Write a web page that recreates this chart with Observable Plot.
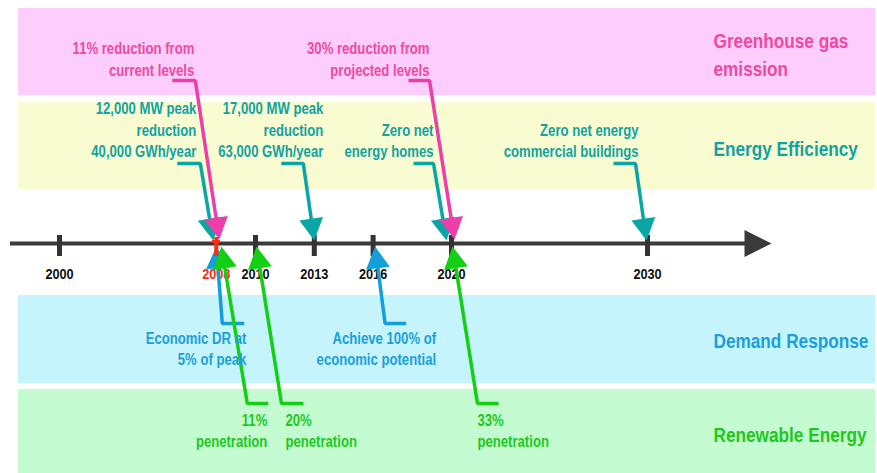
<!DOCTYPE html>
<html><head><meta charset="utf-8">
<script src="https://cdn.jsdelivr.net/npm/d3@7"></script>
<script src="https://cdn.jsdelivr.net/npm/@observablehq/plot@0.6"></script>
<style>html,body{margin:0;padding:0;background:#fff;overflow:hidden}#chart svg{display:block}</style>
</head><body><div id="chart"></div>
<script>
// ---------------- data ----------------
const tickYears = [2000, 2008, 2010, 2013, 2016, 2020, 2030];
const tickLabels = ["2000", "2008", "2010", "2013", "2016", "2020", "2030"];
const currentYear = 2008;
const categories = ["Greenhouse gas emission", "Energy Efficiency", "Demand Response", "Renewable Energy"];
const categoryLabelLines = [["Greenhouse gas", "emission"], ["Energy Efficiency"], ["Demand Response"], ["Renewable Energy"]];
const milestoneCategory = [
  "Greenhouse gas emission", "Greenhouse gas emission",
  "Energy Efficiency", "Energy Efficiency", "Energy Efficiency", "Energy Efficiency",
  "Demand Response", "Demand Response",
  "Renewable Energy", "Renewable Energy", "Renewable Energy"
];
const milestoneYear = [2008, 2020, 2008, 2013, 2020, 2030, 2008, 2016, 2008, 2010, 2020];
const milestoneText = [
  ["11% reduction from", "current levels"],
  ["30% reduction from", "projected levels"],
  ["12,000 MW peak", "reduction", "40,000 GWh/year"],
  ["17,000 MW peak", "reduction", "63,000 GWh/year"],
  ["Zero net", "energy homes"],
  ["Zero net energy", "commercial buildings"],
  ["Economic DR at", "5% of peak"],
  ["Achieve 100% of", "economic potential"],
  ["11%", "penetration"],
  ["20%", "penetration"],
  ["33%", "penetration"]
];

// ---------------- layout / style ----------------
const W = 877, H = 473;
const AXIS_Y = 243;
const PX0 = 59, PX1 = 647;                 // pixel positions of 2000 and 2030
const pxPerYear = (PX1 - PX0) / 30;
const yr = px => 2000 + (px - PX0) / pxPerYear; // pixel -> year (for layout offsets)
const px = y => PX0 + (y - 2000) * pxPerYear;

const lanes = {
  "Greenhouse gas emission": {y1: 8, y2: 95, band: "#fdcdfd", text: "#ef4a9e", line: "#ee3ea9", tipY: 239, elbowY: 80, firstY: 48, step: 22, labelY: [41, 69]},
  "Energy Efficiency": {y1: 102, y2: 189, band: "#f9fbd0", text: "#12a2a2", line: "#0aa6a6", tipY: 240, elbowY: 163, lastY: 151.5, step: 21.5, labelY: [149]},
  "Demand Response": {y1: 295, y2: 383, band: "#c5f4fd", text: "#1c9fda", line: "#159fda", tipY: 246, elbowY: 323, firstY: 338, step: 21, labelY: [341]},
  "Renewable Energy": {y1: 389, y2: 480, band: "#c4fbd0", text: "#1ec81e", line: "#14d014", tipY: 246, elbowY: 403, firstY: 420, step: 21, labelY: [435]}
};
// pixel offsets from each milestone's tick: arrow tip, elbow, shoulder bar length, label anchor
const milestoneLayout = [
  {tip: 3, elbow: -21, bar: -23, label: -22, anchor: "end"},
  {tip: 3, elbow: -22, bar: -21, label: -22, anchor: "end"},
  {tip: -3, elbow: -16, bar: -23, label: -20, anchor: "end"},
  {tip: 0, elbow: -11, bar: -22, label: 9, anchor: "end"},
  {tip: -5, elbow: -18, bar: -20, label: -18, anchor: "end"},
  {tip: -1, elbow: -12, bar: -22, label: -9, anchor: "end"},
  {tip: 0, elbow: 6, bar: 22, label: 30, anchor: "end"},
  {tip: 2, elbow: 12, bar: 21, label: 63, anchor: "end"},
  {tip: 5, elbow: 31, bar: 21, label: 51, anchor: "end"},
  {tip: 1, elbow: 26, bar: 22, label: 30, anchor: "start"},
  {tip: 1, elbow: 26, bar: 21, label: 26, anchor: "start"}
];
const TRI_W = 24, TRI_H = 22;

// ---------------- font detection ----------------
function fontAvailable(name) {
  const c = document.createElement("canvas").getContext("2d");
  const t = "11% reduction from WMmwil";
  c.font = "bold 40px monospace"; const a = c.measureText(t).width;
  c.font = `bold 40px "${name}", monospace`; const b = c.measureText(t).width;
  return Math.abs(a - b) > 0.5;
}
const NARROW = fontAvailable("Liberation Sans Narrow");
const FONT = NARROW ? '"Liberation Sans Narrow", "Liberation Sans", Arial, sans-serif' : '"Liberation Sans", Arial, sans-serif';

// triangle symbol with tip at origin, rotated to point along (ux, uy)
function triangle(w, h, ux, uy) {
  const a = Math.atan2(-ux, uy), c = Math.cos(a), s = Math.sin(a);
  const pts = [[0, 0], [-w / 2, -h], [w / 2, -h]].map(([x, y]) => [x * c - y * s, x * s + y * c]);
  return {draw(ctx) { ctx.moveTo(...pts[0]); ctx.lineTo(...pts[1]); ctx.lineTo(...pts[2]); ctx.closePath(); }};
}

// ---------------- derived tables ----------------
const milestones = milestoneYear.map((year, i) => {
  const lane = lanes[milestoneCategory[i]], L = milestoneLayout[i], X = px(year);
  const tip = [X + L.tip, lane.tipY], elbow = [X + L.elbow, lane.elbowY];
  const dx = tip[0] - elbow[0], dy = tip[1] - elbow[1], len = Math.hypot(dx, dy);
  const ux = dx / len, uy = dy / len;
  const base = [tip[0] - ux * TRI_H * 0.8, tip[1] - uy * TRI_H * 0.8];
  return {i, year, lane, L, tip, elbow, barEnd: [elbow[0] + L.bar, lane.elbowY], base, ux, uy};
});
const leaderPts = milestones.flatMap(m => [
  {id: m.i, x: yr(m.barEnd[0]), y: m.barEnd[1], c: m.lane.line},
  {id: m.i, x: yr(m.elbow[0]), y: m.elbow[1], c: m.lane.line},
  {id: m.i, x: yr(m.base[0]), y: m.base[1], c: m.lane.line}
]);
const labelLines = milestones.flatMap(m => {
  const lines = milestoneText[m.i], lane = m.lane;
  const first = lane.lastY != null ? lane.lastY - (lines.length - 1) * lane.step : lane.firstY;
  return lines.map((t, k) => ({x: yr(px(m.year) + m.L.label), y: first + k * lane.step, text: t, fill: lane.text, anchor: m.L.anchor}));
});
const catLabels = categories.flatMap((c, i) => categoryLabelLines[i].map((t, k) => ({x: yr(713), y: lanes[c].labelY[k], text: t, fill: lanes[c].text})));

// draw order: teal, then pink, then blue, then green
const order = ["Energy Efficiency", "Greenhouse gas emission", "Demand Response", "Renewable Energy"];
const triMarks = order.flatMap(cat => milestones.filter(m => milestoneCategory[m.i] === cat).map(m =>
  Plot.dot([m], {x: d => yr(d.tip[0]), y: d => d.tip[1], r: 6, fill: m.lane.line, symbol: triangle(TRI_W, TRI_H, m.ux, m.uy)})
));

const chart = Plot.plot({
  width: W, height: H, margin: 0,
  x: {domain: [2000, 2030], range: [PX0, PX1], axis: null},
  y: {domain: [0, H], range: [0, H], axis: null},
  color: {type: "identity"},
  style: {fontFamily: FONT, background: "#fff", overflow: "visible"},
  marks: [
    Plot.rect(categories, {x1: yr(18), x2: yr(875), y1: c => lanes[c].y1, y2: c => lanes[c].y2, fill: c => lanes[c].band}),
    // timeline axis
    Plot.ruleY([AXIS_Y], {x1: yr(10), x2: yr(752), stroke: "#3a3a3a", strokeWidth: 4}),
    Plot.dot([AXIS_Y], {x: yr(771), y: d => d, r: 6, fill: "#3a3a3a", symbol: triangle(27, 27, 1, 0)}),
    Plot.ruleX(tickYears.filter(d => d !== currentYear), {x: d => d, y1: 235, y2: 256, stroke: "#333", strokeWidth: 5}),
    Plot.text(tickYears, {x: d => d, y: 274, text: (d, i) => tickLabels[i], fill: d => d === currentYear ? "#ff2a10" : "#111", fontSize: 15.5, fontWeight: "bold"}),
    // leaders
    Plot.line(leaderPts, {x: "x", y: "y", z: "id", stroke: "c", strokeWidth: 3.5, strokeLinejoin: "miter", strokeLinecap: "butt"}),
    ...triMarks,
    // current-year marker
    Plot.ruleX([currentYear], {x: d => d, y1: 237, y2: 256, stroke: "#ff2a10", strokeWidth: 4}),
    Plot.ruleY([AXIS_Y - 2], {x1: currentYear - 4 / pxPerYear, x2: currentYear + 4 / pxPerYear, y: d => d, stroke: "#ff2a10", strokeWidth: 3}),
    // labels
    Plot.text(labelLines.filter(d => d.anchor === "end"), {x: "x", y: "y", text: "text", fill: "fill", textAnchor: "end", fontSize: 16, fontWeight: "bold"}),
    Plot.text(labelLines.filter(d => d.anchor === "start"), {x: "x", y: "y", text: "text", fill: "fill", textAnchor: "start", fontSize: 16, fontWeight: "bold"}),
    Plot.text(catLabels, {x: "x", y: "y", text: "text", fill: "fill", textAnchor: "start", fontSize: 21, fontWeight: "bold"})
  ]
});

if (!NARROW) {
  chart.querySelectorAll("text").forEach(t => {
    const tr = t.getAttribute("transform");
    if (tr) t.setAttribute("transform", tr + " scale(0.82,1)");
    else {
      const x = +t.getAttribute("x") || 0, y = +t.getAttribute("y") || 0;
      t.removeAttribute("x"); t.removeAttribute("y");
      t.setAttribute("transform", `translate(${x},${y}) scale(0.82,1)`);
    }
  });
}
document.getElementById("chart").appendChild(chart);
</script>
</body></html>
